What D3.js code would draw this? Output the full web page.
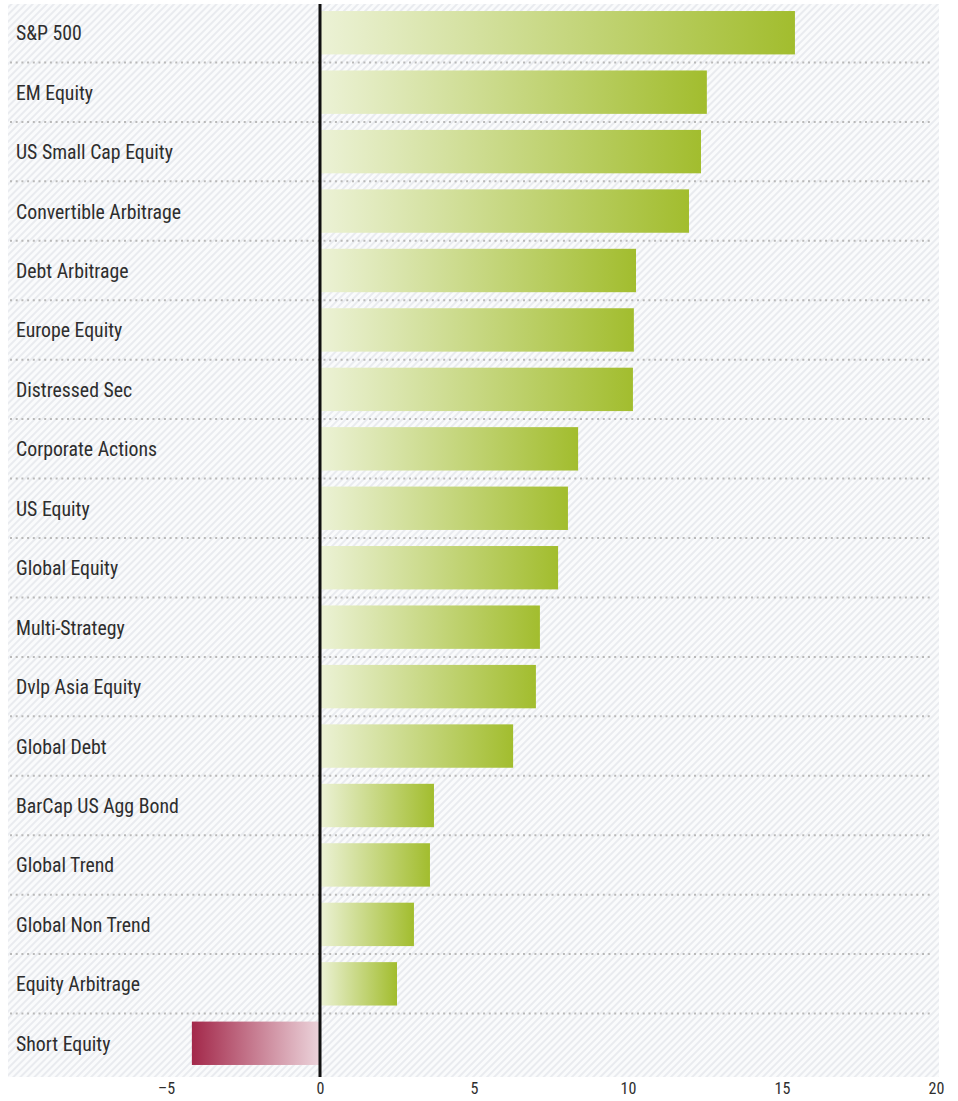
<!DOCTYPE html>
<html>
<head>
<meta charset="utf-8">
<script src="https://cdn.jsdelivr.net/npm/d3@7"></script>
<style>
  html, body { margin: 0; padding: 0; background: #ffffff; }
  svg { display: block; }
  text { font-family: "Roboto Condensed", "Liberation Sans Narrow", "DejaVu Sans Condensed", sans-serif; font-weight: 400; fill: #2e2e2e; }
</style>
</head>
<body>
<svg id="chart" width="958" height="1101"></svg>
<script>
// Annualised return by strategy / index
const categories = [
  "S&P 500", "EM Equity", "US Small Cap Equity", "Convertible Arbitrage",
  "Debt Arbitrage", "Europe Equity", "Distressed Sec", "Corporate Actions",
  "US Equity", "Global Equity", "Multi-Strategy", "Dvlp Asia Equity",
  "Global Debt", "BarCap US Agg Bond", "Global Trend", "Global Non Trend",
  "Equity Arbitrage", "Short Equity"
];
const values = [
  15.42, 12.56, 12.37, 11.98,
  10.26, 10.19, 10.16, 8.38,
  8.05, 7.73, 7.14, 7.01,
  6.27, 3.70, 3.57, 3.05,
  2.50, -4.16
];
const tickValues = [-5, 0, 5, 10, 15, 20];
const tickLabels = ["\u20135", "0", "5", "10", "15", "20"];

const svg = d3.select("#chart");
const plot = { left: 8, right: 939, top: 3, bottom: 1073, bgBottom: 1077 };

const x = d3.scaleLinear().domain([-5, 20]).range([166, 936]);
const y = d3.scaleBand()
  .domain(categories)
  .range([plot.top, plot.bottom])
  .paddingInner(0.27)
  .paddingOuter(0.135);

const defs = svg.append("defs");

// diagonal hatch for the plot background
const hatch = defs.append("pattern")
  .attr("id", "hatch")
  .attr("patternUnits", "userSpaceOnUse")
  .attr("width", 5).attr("height", 5)
  .attr("patternTransform", "rotate(45)");
hatch.append("rect").attr("width", 5).attr("height", 5).attr("fill", "#fafbfc");
hatch.append("rect").attr("width", 2).attr("height", 5).attr("fill", "#e9ebef");

// bar gradients: light at the zero line, saturated at the bar end
const gPos = defs.append("linearGradient").attr("id", "gradPos")
  .attr("x1", 0).attr("x2", 1).attr("y1", 0).attr("y2", 0);
gPos.append("stop").attr("offset", "0%").attr("stop-color", "#ecf2d6");
gPos.append("stop").attr("offset", "100%").attr("stop-color", "#a2bd2e");

const gNeg = defs.append("linearGradient").attr("id", "gradNeg")
  .attr("x1", 1).attr("x2", 0).attr("y1", 0).attr("y2", 0);
gNeg.append("stop").attr("offset", "0%").attr("stop-color", "#ecd4db");
gNeg.append("stop").attr("offset", "100%").attr("stop-color", "#a3284a");

// background
svg.append("rect")
  .attr("x", plot.left).attr("y", plot.top + 1)
  .attr("width", plot.right - plot.left)
  .attr("height", plot.bgBottom - plot.top - 1)
  .attr("fill", "url(#hatch)");

// dotted separators between rows
const step = y.step();
svg.append("g").selectAll("line")
  .data(categories.slice(1))
  .join("line")
  .attr("x1", 10).attr("x2", 932)
  .attr("y1", d => y(d) - step * y.paddingInner() / 2)
  .attr("y2", d => y(d) - step * y.paddingInner() / 2)
  .attr("stroke", "#b9b9b9")
  .attr("stroke-width", 2)
  .attr("stroke-dasharray", "2,3.7");

// bars
const data = categories.map((c, i) => ({ name: c, value: values[i] }));
svg.append("g").selectAll("rect")
  .data(data)
  .join("rect")
  .attr("x", d => Math.min(x(0), x(d.value)))
  .attr("width", d => Math.abs(x(d.value) - x(0)))
  .attr("y", d => y(d.name))
  .attr("height", y.bandwidth())
  .attr("fill", d => d.value >= 0 ? "url(#gradPos)" : "url(#gradNeg)");

// category labels
svg.append("g").selectAll("text")
  .data(categories)
  .join("text")
  .attr("x", 16)
  .attr("y", d => y(d) + y.bandwidth() / 2 + 7.5)
  .attr("font-size", 19.8)
  .text(d => d);

// zero line
svg.append("line")
  .attr("x1", x(0)).attr("x2", x(0))
  .attr("y1", plot.top + 1).attr("y2", plot.bgBottom)
  .attr("stroke", "#111111")
  .attr("stroke-width", 3);

// x axis labels
const axis = d3.axisBottom(x)
  .tickValues(tickValues)
  .tickFormat((d, i) => tickLabels[i])
  .tickSize(0)
  .tickPadding(0);
const ax = svg.append("g")
  .attr("transform", `translate(0, ${plot.bgBottom + 6})`)
  .call(axis);
ax.select(".domain").remove();
ax.selectAll("text")
  .attr("font-size", 16)
  .attr("fill", "#2e2e2e")
  .style("font-family", "'Roboto Condensed', 'Liberation Sans Narrow', sans-serif")
  .style("font-weight", 400);
</script>
</body>
</html>
